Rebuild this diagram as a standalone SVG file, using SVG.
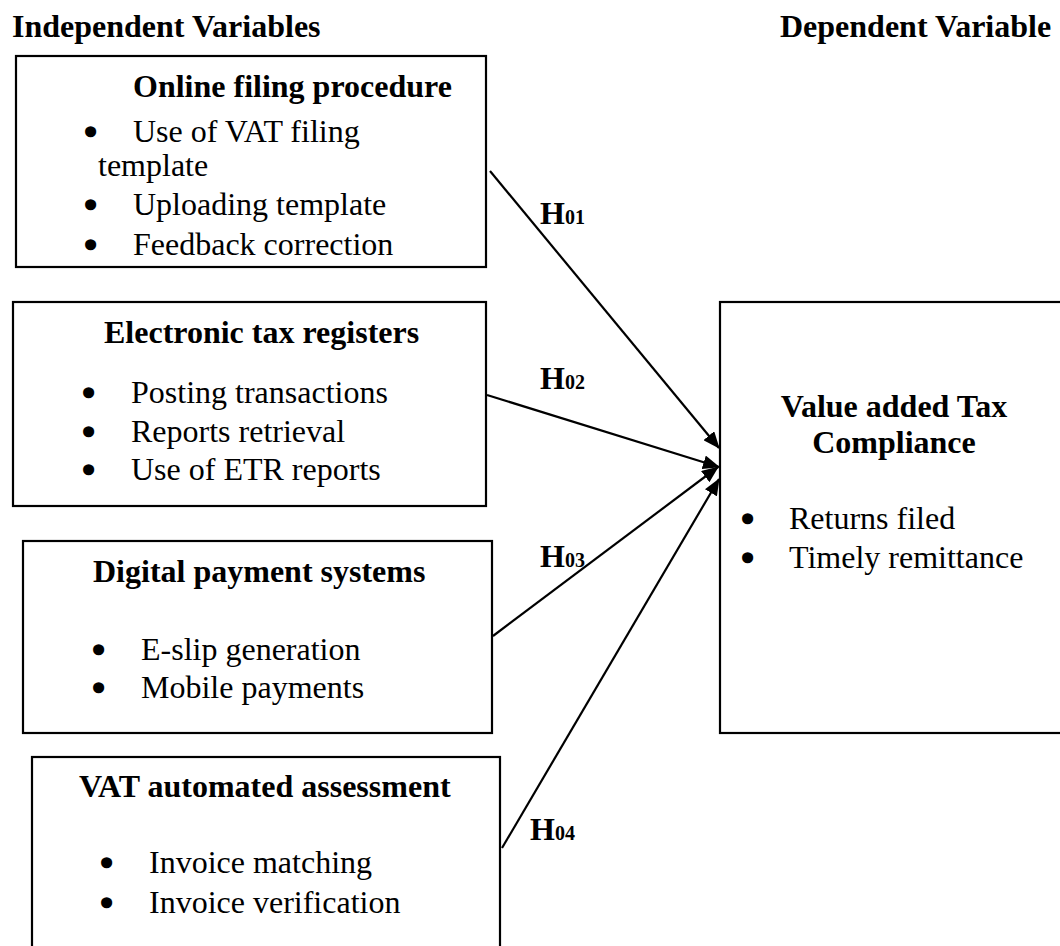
<svg xmlns="http://www.w3.org/2000/svg" width="1060" height="946" viewBox="0 0 1060 946">
<style>
text{font-family:"Liberation Serif","Times New Roman",serif;font-size:32px;fill:#000}
.b{font-weight:bold}
.bl{stroke:#000;stroke-width:3.5;stroke-linejoin:round}
.box{fill:#fff;stroke:#000;stroke-width:2.2}
.conn line{stroke:#000;stroke-width:2.2}
.h{font-weight:bold;font-size:32px}
.hs{font-size:20px;font-weight:bold}
</style>
<defs>
<marker id="ah" markerWidth="17" markerHeight="14" refX="16" refY="7" orient="auto" markerUnits="userSpaceOnUse">
<path d="M0,0 L17,7 L0,14 Z" fill="#000"/>
</marker>
</defs>
<rect width="1060" height="946" fill="#fff"/>
<text class="b" x="12" y="37">Independent Variables</text>
<text class="b" x="780" y="37">Dependent Variable</text>

<g id="online-filing">
<rect class="box" x="16" y="56" width="470" height="211"/>
<text class="b" x="133" y="97">Online filing procedure</text>
<text class="bl" x="85" y="143">•</text><text x="133" y="142">Use of VAT filing</text>
<text x="98" y="176">template</text>
<text class="bl" x="85" y="216">•</text><text x="133" y="215">Uploading template</text>
<text class="bl" x="85" y="256">•</text><text x="133" y="255">Feedback correction</text>
</g>

<g id="etr">
<rect class="box" x="13" y="302" width="473" height="204"/>
<text class="b" x="104" y="343">Electronic tax registers</text>
<text class="bl" x="83" y="404">•</text><text x="131" y="403">Posting transactions</text>
<text class="bl" x="83" y="443">•</text><text x="131" y="442">Reports retrieval</text>
<text class="bl" x="83" y="481">•</text><text x="131" y="480">Use of ETR reports</text>
</g>

<g id="digital-payment">
<rect class="box" x="23" y="541" width="469" height="192"/>
<text class="b" x="93" y="582">Digital payment systems</text>
<text class="bl" x="93" y="661">•</text><text x="141" y="660">E-slip generation</text>
<text class="bl" x="93" y="699">•</text><text x="141" y="698">Mobile payments</text>
</g>

<g id="vat-assessment">
<rect class="box" x="32" y="757" width="468" height="220"/>
<text class="b" x="79" y="797">VAT automated assessment</text>
<text class="bl" x="101" y="874">•</text><text x="149" y="873">Invoice matching</text>
<text class="bl" x="101" y="914">•</text><text x="149" y="913">Invoice verification</text>
</g>

<g id="vat-compliance">
<rect class="box" x="720" y="302" width="360" height="431"/>
<text class="b" x="894" y="417" text-anchor="middle">Value added Tax</text>
<text class="b" x="894" y="453" text-anchor="middle">Compliance</text>
<text class="bl" x="742" y="530">•</text><text x="789" y="529">Returns filed</text>
<text class="bl" x="742" y="569">•</text><text x="789" y="568">Timely remittance</text>
</g>

<g id="connectors" class="conn">
<line x1="490" y1="171" x2="719" y2="448" marker-end="url(#ah)"/>
<line x1="487" y1="395" x2="719" y2="467" marker-end="url(#ah)"/>
<line x1="493" y1="636" x2="718" y2="467" marker-end="url(#ah)"/>
<line x1="502" y1="848" x2="719" y2="479" marker-end="url(#ah)"/>
</g>
<g id="labels">
<text x="540" y="224"><tspan class="h">H</tspan><tspan class="hs">01</tspan></text>
<text x="540" y="389"><tspan class="h">H</tspan><tspan class="hs">02</tspan></text>
<text x="540" y="567"><tspan class="h">H</tspan><tspan class="hs">03</tspan></text>
<text x="530" y="840"><tspan class="h">H</tspan><tspan class="hs">04</tspan></text>
</g>
</svg>
